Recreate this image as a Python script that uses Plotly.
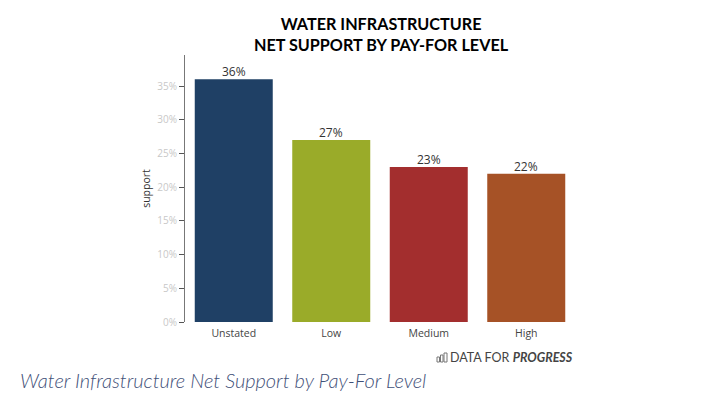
import plotly.graph_objects as go

categories = ["Unstated", "Low", "Medium", "High"]
support = [36, 27, 23, 22]
bar_colors = ["#1F4065", "#9AAB29", "#A32E2E", "#A65226"]
tick_values = [0, 5, 10, 15, 20, 25, 30, 35]
tick_labels = ["0%", "5%", "10%", "15%", "20%", "25%", "30%", "35%"]
value_labels = ["36%", "27%", "23%", "22%"]
title_text = "WATER INFRASTRUCTURE<br>NET SUPPORT BY PAY-FOR LEVEL"

W, H = 720, 395
L, R, T, B = 185, 145, 55, 73
PW, PH = W - L - R, H - T - B


def px(x):
    return (x - L) / PW


def py(y):
    return (H - B - y) / PH


fig = go.Figure(
    go.Bar(
        x=categories,
        y=support,
        width=0.8,
        marker=dict(color=bar_colors, line_width=0),
        hoverinfo="skip",
    )
)

annotations = [dict(
    text=title_text,
    xref="paper", yref="paper", x=px(381), y=py(34),
    xanchor="center", yanchor="middle", showarrow=False, align="center",
    font=dict(family="Lato", size=16.2, color="#000000", weight=700),
)]
for cat, val, lab in zip(categories, support, value_labels):
    annotations.append(dict(
        text=lab, x=cat, y=val, xref="x", yref="y",
        xanchor="center", yanchor="bottom", showarrow=False, yshift=-3,
        font=dict(family="Open Sans", size=12, color="#333333"),
    ))
annotations += [
    dict(
        text="DATA FOR <b><i>PROGRESS</i></b>",
        xref="paper", yref="paper", x=px(575), y=py(358),
        xanchor="right", yanchor="middle", showarrow=False,
        font=dict(family="Lato", size=12.5, color="#444444"),
    ),
    dict(
        text="<i>Water Infrastructure Net Support by Pay-For Level</i>",
        xref="paper", yref="paper", x=px(18), y=py(380),
        xanchor="left", yanchor="middle", showarrow=False,
        font=dict(family="Lato", size=20, color="#3F5078", weight=300),
    ),
]

# small bar-chart icon of the wordmark
shapes = []
for x0, x1, top in [(437, 439.5, 357), (440.5, 443, 355), (444, 447, 353)]:
    shapes.append(dict(
        type="rect", xref="paper", yref="paper",
        x0=px(x0), x1=px(x1), y0=py(362), y1=py(top),
        line=dict(color="#777777", width=1), fillcolor="rgba(0,0,0,0)",
    ))

fig.update_layout(
    width=W, height=H,
    margin=dict(l=L, r=R, t=T, b=B, pad=0),
    paper_bgcolor="white", plot_bgcolor="white",
    showlegend=False,
    annotations=annotations,
    shapes=shapes,
    xaxis=dict(
        type="category", range=[-0.5, 3.5], showgrid=False, zeroline=False,
        showline=False, ticks="", ticklen=0, ticklabelstandoff=3,
        tickfont=dict(family="Open Sans", size=10.5, color="#444444"),
    ),
    yaxis=dict(
        range=[0, 39.6], tickvals=tick_values, ticktext=tick_labels,
        showgrid=False, zeroline=False, showline=True, linecolor="#777777",
        linewidth=1, ticks="outside", ticklen=5, tickcolor="#555555", tickwidth=1,
        tickfont=dict(family="Open Sans", size=10, color="#C8C8C8"),
        title=dict(text="support", standoff=4,
                   font=dict(family="Open Sans", size=10.5, color="#333333")),
    ),
)

fig.write_html(
    "out.html",
    config={"displayModeBar": False},
    post_script="document.body.style.margin='0';document.body.style.overflow='hidden';",
)
